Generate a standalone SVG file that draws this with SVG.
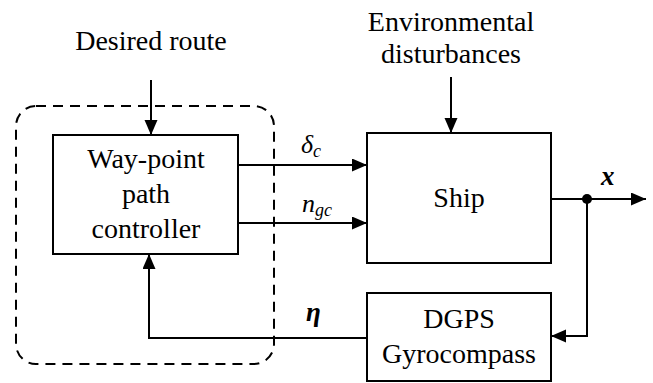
<svg xmlns="http://www.w3.org/2000/svg" width="653" height="383" viewBox="0 0 653 383">
<defs>
<style>
.box{fill:#fff;stroke:#000;stroke-width:2}
.ln{fill:none;stroke:#000;stroke-width:2}
text{font-family:'Liberation Serif','Times New Roman',Times,Tinos,'Noto Serif','DejaVu Serif',FreeSerif,serif;fill:#000}
.t{font-size:28px;text-anchor:middle}
.m{font-style:italic;font-size:26px}
.b{font-style:italic;font-weight:bold;font-size:27px}
</style>
<marker id="ah" markerUnits="userSpaceOnUse" markerWidth="16" markerHeight="14" refX="15" refY="6.5" orient="auto">
<path d="M0,0 L15,6.5 L0,13 Z" fill="#000"/>
</marker>
</defs>
<g id="group-dashed">
<rect x="16" y="106" width="258" height="258" rx="20" ry="20" fill="none" stroke="#000" stroke-width="2" stroke-dasharray="10,7"/>
</g>
<g id="connectors">
<line class="ln" x1="151" y1="80" x2="151" y2="135" marker-end="url(#ah)"/>
<line class="ln" x1="451" y1="77" x2="451" y2="133" marker-end="url(#ah)"/>
<line class="ln" x1="238" y1="165" x2="367" y2="165" marker-end="url(#ah)"/>
<line class="ln" x1="238" y1="223" x2="367" y2="223" marker-end="url(#ah)"/>
<line class="ln" x1="551" y1="199" x2="646" y2="199" marker-end="url(#ah)"/>
<polyline class="ln" points="587,199 587,336 551,336" marker-end="url(#ah)"/>
<polyline class="ln" points="367,338 149,338 149,254" marker-end="url(#ah)"/>
<circle cx="587" cy="199" r="5" fill="#000"/>
<text class="m" x="301" y="153">δ<tspan font-size="18" dy="4">c</tspan></text>
<text class="m" x="302" y="212">n<tspan font-size="18" dy="4">gc</tspan></text>
<text class="b" x="601" y="185">x</text>
<text class="b" x="306" y="321">η</text>
</g>
<g id="label-desired">
<text class="t" x="151" y="50">Desired route</text>
</g>
<g id="label-env">
<text class="t" x="451" y="31">Environmental</text>
<text class="t" x="451" y="63">disturbances</text>
</g>
<g id="controller">
<rect class="box" x="53" y="135" width="185" height="119"/>
<text class="t" x="146" y="168">Way-point</text>
<text class="t" x="146" y="203">path</text>
<text class="t" x="146" y="238">controller</text>
</g>
<g id="ship">
<rect class="box" x="367" y="133" width="184" height="130"/>
<text class="t" x="459" y="207">Ship</text>
</g>
<g id="dgps">
<rect class="box" x="367" y="293" width="184" height="88"/>
<text class="t" x="459" y="328">DGPS</text>
<text class="t" x="459" y="363">Gyrocompass</text>
</g>
</svg>
